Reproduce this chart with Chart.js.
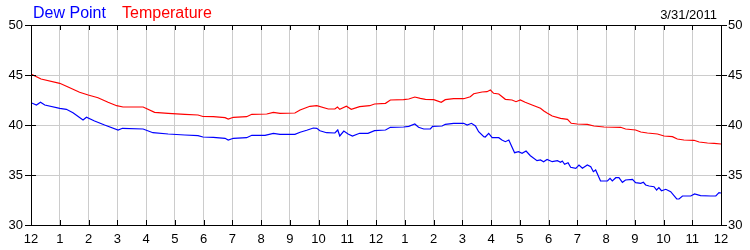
<!DOCTYPE html>
<html>
<head>
<meta charset="utf-8">
<script src="https://cdn.jsdelivr.net/npm/chart.js@4.4.1/dist/chart.umd.min.js"></script>
<style>
html,body{margin:0;padding:0;background:#fff;}
#wrap{width:750px;height:250px;}
</style>
</head>
<body>
<div id="wrap"><canvas id="c" width="750" height="250"></canvas></div>
<script>
// hours since midnight 3/31/2011
const tempHours = [0,0.35,1.0,1.29,1.69,1.99,2.33,2.68,2.98,3.2,3.9,4.3,4.77,5.35,5.81,5.98,6.34,6.75,6.86,7.04,7.5,7.68,8.2,8.43,8.66,9.18,9.36,9.7,9.94,10.34,10.57,10.66,10.74,10.97,11.14,11.43,11.78,11.95,12.33,12.5,12.96,13.14,13.35,13.54,13.72,14.01,14.27,14.41,14.7,15.05,15.28,15.4,15.69,15.86,15.98,16.09,16.27,16.5,16.73,16.87,17.02,17.19,17.43,17.72,17.84,17.95,18.13,18.42,18.66,18.79,19.0,19.35,19.58,19.93,20.51,20.68,21.03,21.21,21.44,21.79,22.02,22.31,22.48,22.71,23.06,23.24,23.53,23.76,24];
const tempValues = [45.1,44.6,44.17,43.8,43.27,43.0,42.73,42.27,41.93,41.8,41.8,41.27,41.17,41.07,41.0,40.85,40.83,40.73,40.6,40.77,40.83,41.07,41.1,41.27,41.17,41.2,41.5,41.87,41.93,41.6,41.6,41.8,41.57,41.87,41.57,41.83,41.93,42.1,42.17,42.5,42.53,42.6,42.8,42.67,42.57,42.53,42.27,42.53,42.63,42.63,42.83,43.13,43.3,43.33,43.5,43.17,43.1,42.57,42.5,42.33,42.5,42.27,42.0,41.67,41.4,41.2,40.9,40.67,40.57,40.17,40.1,40.07,39.9,39.8,39.77,39.6,39.5,39.3,39.2,39.1,38.9,38.83,38.6,38.5,38.47,38.3,38.2,38.17,38.1];
const dewHours = [0,0.19,0.33,0.48,1.0,1.23,1.46,1.81,1.93,2.21,2.56,3.03,3.18,3.9,4.24,4.77,5.35,5.81,5.98,6.34,6.75,6.86,7.04,7.5,7.68,8.14,8.43,8.66,9.18,9.36,9.59,9.82,9.94,10.05,10.28,10.57,10.67,10.74,10.88,11.03,11.18,11.43,11.72,11.95,12.33,12.5,12.96,13.14,13.35,13.48,13.66,13.89,13.97,14.3,14.41,14.7,15.05,15.17,15.32,15.46,15.57,15.75,15.8,15.92,16.04,16.27,16.38,16.5,16.62,16.82,16.96,17.08,17.22,17.37,17.6,17.72,17.83,17.95,18.13,18.31,18.42,18.48,18.56,18.68,18.77,18.95,19.06,19.18,19.35,19.47,19.56,19.64,19.81,20.05,20.14,20.22,20.34,20.45,20.57,20.68,20.92,21.03,21.21,21.3,21.38,21.5,21.67,21.76,21.84,21.93,22.08,22.25,22.46,22.54,22.66,22.95,23.08,23.29,23.64,23.82,23.93,24];
const dewValues = [42.23,42.0,42.27,42.0,41.67,41.57,41.23,40.5,40.77,40.4,40.0,39.5,39.67,39.6,39.23,39.1,39.0,38.93,38.8,38.77,38.67,38.5,38.67,38.73,38.97,38.97,39.17,39.07,39.07,39.27,39.47,39.7,39.67,39.43,39.23,39.2,39.5,38.9,39.4,39.1,38.9,39.17,39.17,39.43,39.5,39.77,39.8,39.87,40.1,39.77,39.6,39.6,39.87,39.9,40.07,40.17,40.17,40.0,40.17,39.9,39.33,38.83,38.8,39.17,38.73,38.73,38.5,38.33,38.5,37.23,37.33,37.17,37.4,36.93,36.43,36.5,36.33,36.55,36.33,36.43,36.27,36.4,36.07,36.23,35.77,35.67,36.0,35.67,36.0,35.83,35.33,35.5,34.4,34.4,34.67,34.4,34.73,34.73,34.27,34.5,34.57,34.23,34.17,34.27,34.0,33.9,33.83,33.5,33.73,33.43,33.57,33.33,32.6,32.6,32.9,32.9,33.1,32.93,32.9,32.9,33.23,33.2];
const seriesNames = ['Dew Point','Temperature'];
const seriesColors = ['#0000ff','#ff0000'];
const dateLabel = '3/31/2011';
const yTicks = [30,35,40,45,50];

const FONT = '"Liberation Sans", Arial, sans-serif';

const toXY = (hs, vs) => hs.map((h,i)=>({x:h,y:vs[i]}));

const framePlugin = {
  id:'frame',
  afterDatasetsDraw(chart){
    const {ctx, chartArea:a, scales} = chart;
    ctx.save();
    ctx.strokeStyle = '#000';
    ctx.lineWidth = 1;
    ctx.beginPath();
    // inner tick marks on top and bottom
    for(let h=1; h<24; h++){
      const x = Math.round(scales.x.getPixelForValue(h))+0.5;
      ctx.moveTo(x, a.top); ctx.lineTo(x, a.top+5);
      ctx.moveTo(x, a.bottom); ctx.lineTo(x, a.bottom-5);
    }
    for(const v of [35,40,45]){
      const y = Math.round(scales.y.getPixelForValue(v))+0.5;
      ctx.moveTo(a.left, y); ctx.lineTo(a.left+5, y);
      ctx.moveTo(a.right, y); ctx.lineTo(a.right-5, y);
    }
    ctx.stroke();
    ctx.strokeRect(Math.round(a.left)+0.5, Math.round(a.top)+0.5, Math.round(a.right-a.left), Math.round(a.bottom-a.top));
    ctx.restore();
  },
  afterDraw(chart){
    const ctx = chart.ctx;
    ctx.save();
    ctx.textBaseline = 'alphabetic';
    ctx.font = '16px ' + FONT;
    ctx.textAlign = 'left';
    ctx.fillStyle = seriesColors[0];
    ctx.fillText(seriesNames[0], 33, 18);
    ctx.fillStyle = seriesColors[1];
    ctx.fillText(seriesNames[1], 122, 18);
    ctx.font = '13px ' + FONT;
    ctx.textAlign = 'right';
    ctx.fillStyle = '#000';
    ctx.fillText(dateLabel, 717, 19);
    ctx.restore();
  }
};

new Chart(document.getElementById('c'), {
  type:'line',
  data:{
    datasets:[
      {label:seriesNames[0], data:toXY(dewHours, dewValues), borderColor:seriesColors[0], borderWidth:1.2, pointRadius:0, tension:0, fill:false},
      {label:seriesNames[1], data:toXY(tempHours, tempValues), borderColor:seriesColors[1], borderWidth:1.2, pointRadius:0, tension:0, fill:false}
    ]
  },
  options:{
    responsive:false,
    animation:false,
    layout:{padding:{top:25,left:0,right:0,bottom:0}},
    plugins:{legend:{display:false}, tooltip:{enabled:false}, title:{display:false}},
    scales:{
      x:{
        type:'linear', min:0, max:24, position:'bottom',
        afterFit(s){ s.height = 25; },
        afterBuildTicks(s){ s.ticks = Array.from({length:25},(_,i)=>({value:i})); },
        ticks:{ autoSkip:false, maxRotation:0, padding:7, color:'#000', font:{family:FONT, size:13},
          callback:(v)=> String((v % 12) || 12) },
        grid:{ color:'#cccccc', lineWidth:1, drawTicks:false },
        border:{ display:true, color:'#000' }
      },
      y:{
        type:'linear', min:30, max:50, position:'left',
        afterFit(s){ s.width = 31; },
        afterBuildTicks(s){ s.ticks = yTicks.map(v=>({value:v})); },
        ticks:{ padding:2, color:'#000', font:{family:FONT, size:13} },
        grid:{ color:'#cccccc', lineWidth:1, drawTicks:true, tickLength:6, tickColor:'#000' },
        border:{ display:true, color:'#000' }
      },
      y2:{
        type:'linear', min:30, max:50, position:'right',
        afterFit(s){ s.width = 29; },
        afterBuildTicks(s){ s.ticks = yTicks.map(v=>({value:v})); },
        ticks:{ padding:1, color:'#000', font:{family:FONT, size:13} },
        grid:{ drawOnChartArea:false, drawTicks:true, tickLength:6, tickColor:'#000' },
        border:{ display:true, color:'#000' }
      }
    }
  },
  plugins:[framePlugin]
});
</script>
</body>
</html>
